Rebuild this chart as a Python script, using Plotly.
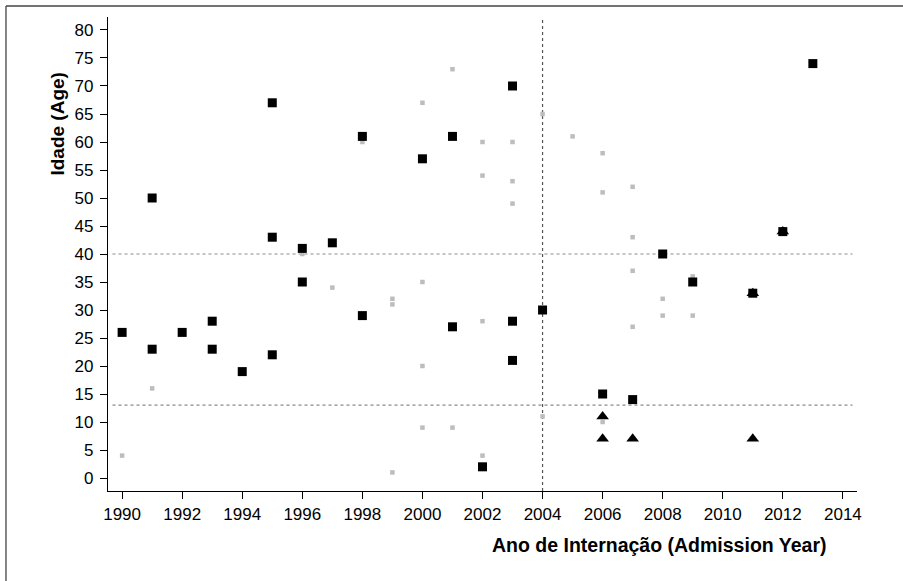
import plotly.graph_objects as go

# Data
black_sq_year = [1990, 1991, 1991, 1992, 1993, 1993, 1994, 1995, 1995, 1995,
                 1996, 1996, 1997, 1998, 1998, 2000, 2001, 2001, 2002, 2003,
                 2003, 2003, 2004, 2006, 2007, 2008, 2009, 2011, 2012, 2013]
black_sq_age = [26, 50, 23, 26, 28, 23, 19, 67, 43, 22,
                41, 35, 42, 61, 29, 57, 61, 27, 2, 70,
                28, 21, 30, 15, 14, 40, 35, 33, 44, 74]

tri_year = [2006, 2006, 2007, 2011, 2011, 2012]
tri_age = [11, 7, 7, 7, 33, 44]

gray_year = [1990, 1991, 1996, 1997, 1998, 1999, 1999, 1999,
             2000, 2000, 2000, 2000, 2001, 2001,
             2002, 2002, 2002, 2002, 2003, 2003, 2003,
             2004, 2004, 2005, 2006, 2006, 2006,
             2007, 2007, 2007, 2007, 2008, 2008, 2009, 2009]
gray_age = [4, 16, 40, 34, 60, 32, 31, 1,
            67, 35, 20, 9, 73, 9,
            60, 54, 28, 4, 60, 53, 49,
            65, 11, 61, 58, 51, 10,
            52, 43, 37, 27, 32, 29, 36, 29]

ref_ages = [40, 13]
ref_years = [2004]

x_ticks = list(range(1990, 2015, 2))
y_ticks = list(range(0, 81, 5))

x_title = "Ano de Internação (Admission Year)"
y_title = "Idade (Age)"

FONT = "Liberation Sans, Arial, Helvetica, sans-serif"

fig = go.Figure()
fig.add_trace(go.Scatter(x=gray_year, y=gray_age, mode="markers",
                         marker=dict(symbol="square", size=4.5, color="#bdbdbd", line=dict(width=0)),
                         showlegend=False, hoverinfo="skip"))
fig.add_trace(go.Scatter(x=black_sq_year, y=black_sq_age, mode="markers",
                         marker=dict(symbol="square", size=9, color="black", line=dict(width=0)),
                         showlegend=False))
fig.add_trace(go.Scatter(x=tri_year, y=tri_age, mode="markers",
                         marker=dict(symbol="triangle-up", size=11, color="black", line=dict(width=0)),
                         showlegend=False))

shapes = []
for a in ref_ages:
    shapes.append(dict(type="line", xref="x domain", yref="y", x0=0.006, x1=0.994, y0=a, y1=a,
                       line=dict(color="#8a8a8a", width=1.2, dash="dot"), layer="below"))
for yr in ref_years:
    shapes.append(dict(type="line", xref="x", yref="y domain", x0=yr, x1=yr, y0=0, y1=1,
                       line=dict(color="#555555", width=1.2, dash="dot"), layer="below"))
# outer frame (top and left edges)
shapes.append(dict(type="line", xref="paper", yref="paper", x0=-0.1362, x1=1.07, y0=1.0232, y1=1.0232,
                   line=dict(color="#444444", width=1.3)))
shapes.append(dict(type="line", xref="paper", yref="paper", x0=-0.1362, x1=-0.1362, y0=-0.2, y1=1.0232,
                   line=dict(color="#444444", width=1.3)))

fig.update_layout(
    width=903, height=581,
    margin=dict(l=108, r=46, t=17, b=90),
    paper_bgcolor="white", plot_bgcolor="white",
    font=dict(family=FONT, size=17, color="black"),
    shapes=shapes,
    xaxis=dict(range=[1989.53, 2014.47], tickvals=x_ticks, ticks="outside", ticklen=7,
               tickwidth=1.2, tickcolor="black", showline=True, linecolor="black", linewidth=1.3,
               showgrid=False, zeroline=False, tickfont=dict(size=17)),
    yaxis=dict(range=[-2.32, 82.32], tickvals=y_ticks, ticks="outside", ticklen=7,
               tickwidth=1.2, tickcolor="black", showline=True, linecolor="black", linewidth=1.3,
               showgrid=False, zeroline=False, tickfont=dict(size=17), ticklabelstandoff=3),
    annotations=[
        dict(text="<b>%s</b>" % x_title, xref="paper", yref="paper", x=0.9613, y=-0.114,
             xanchor="right", yanchor="middle", showarrow=False, font=dict(size=19.5)),
        dict(text="<b>%s</b>" % y_title, xref="paper", yref="paper", x=-0.0668, y=0.888,
             xanchor="center", yanchor="top", textangle=-90, showarrow=False, font=dict(size=19)),
    ],
)

fig.write_html("out.html", config={"displayModeBar": False},
               post_script="document.body.style.margin='0';document.body.style.padding='0';")
